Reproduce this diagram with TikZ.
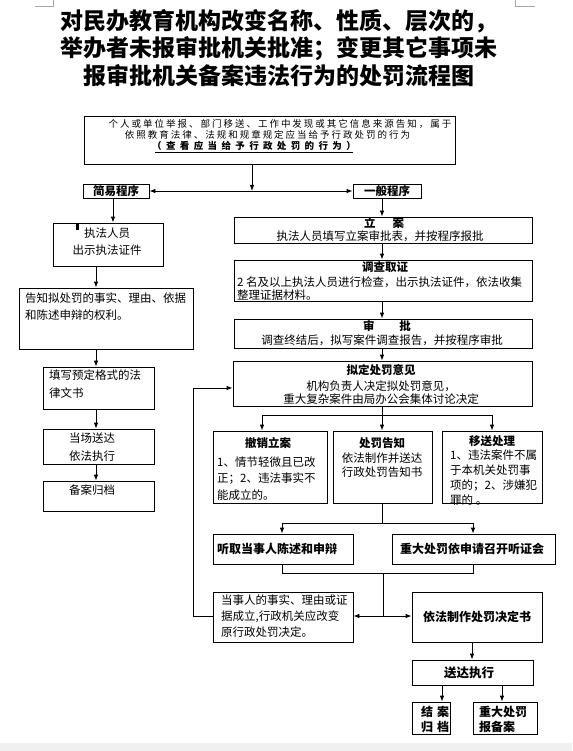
\documentclass[tikz,border=0pt]{standalone}
\usepackage{fontspec}
\setmainfont{Noto Sans CJK SC}
\usetikzlibrary{arrows.meta}
\newcommand\mkbox[5]{\node[box,minimum width={#4-#2},minimum height={#5-#3}] (#1) at ({(#2+#4)/2},{(#3+#5)/2}) {};}
\begin{document}
\begin{tikzpicture}[x=1pt,y=-1pt,
  box/.style={draw,line width=0.8pt,inner sep=0pt},
  txt/.style={inner sep=0pt,align=center},
  body/.style={font=\fontsize{11.5}{#1}\selectfont},
  ttl/.style={font=\fontsize{11.5}{14}\selectfont\bfseries},
  ttlb/.style={font=\fontsize{12}{#1}\selectfont\bfseries},
  arr/.style={-{Latex[length=6pt,width=4.5pt]},line width=0.8pt},
  ln/.style={line width=0.8pt}]
\useasboundingbox (0,0) rectangle (572,751);
% page decorations
\fill[black!6] (0,743) rectangle (572,751);
\draw[black!35,line width=0.6pt] (35,6) -- (53,6) -- (53,0);
\draw[black!35,line width=0.6pt] (515,0) -- (515,6) -- (535,6);
% title
\node[txt,font=\fontsize{23}{27.5}\selectfont\bfseries] (title) at (279,48)
  {对民办教育机构改变名称、性质、层次的，\\举办者未报审批机关批准；变更其它事项未\\报审批机关备案违法行为的处罚流程图};
% top box
\mkbox{top}{84}{116}{455}{164}
\node[txt,font=\fontsize{9.5}{10}\selectfont\addfontfeature{LetterSpace=21}] (t-top1) at (280,124) {个人或单位举报、部门移送、工作中发现或其它信息来源告知，属于};
\node[txt,font=\fontsize{9.5}{10}\selectfont\addfontfeature{LetterSpace=21}] (t-top2) at (267.5,134.5) {依照教育法律、法规和规章规定应当给予行政处罚的行为};
\node[txt,font=\fontsize{9.5}{10}\selectfont\bfseries\addfontfeature{LetterSpace=46}] (t-top3) at (254,145.5) {（查看应当给予行政处罚的行为）};
\draw[line width=0.8pt] (t-top3.south west) ++(3,1.8) -- ([xshift=-3pt,yshift=-1.8pt]t-top3.south east);
% procedures
\mkbox{jianyi}{83}{184}{149}{198}
\node[txt,ttl] (t-jianyi) at (116,191) {简易程序};
\mkbox{yiban}{353}{184}{421}{198}
\node[txt,ttl] (t-yiban) at (387,191) {一般程序};
\coordinate (j1) at (252,191);
\draw[arr] (top.south -| j1) -- (j1);
\draw[arr,{Latex[length=6pt,width=4.5pt]}-{Latex[length=6pt,width=4.5pt]}] (jianyi.east) -- (yiban.west);
% left column
\coordinate (xa) at (113,0);
\coordinate (xb) at (96,0);
\mkbox{zhifa}{53}{223}{163}{266}
\node[txt,body=17] (t-zhifa) at (107,241.5) {执法人员\\出示执法证件};
\draw[line width=2.5pt] (77.5,223.5) -- (77.5,229.5);
\mkbox{gaozhi}{19}{288}{193}{349}
\node[txt,body=17,align=left,anchor=west] (t-gaozhi) at (25,306.5) {告知拟处罚的事实、理由、依据\\和陈述申辩的权利。};
\mkbox{tianxie}{43}{367}{154}{409}
\node[txt,body=18,align=left,anchor=west] (t-tianxie) at (49,384) {填写预定格式的法\\律文书};
\mkbox{dangchang}{43}{429}{154}{464}
\node[txt,body=18] (t-dangchang) at (92,447) {当场送达\\依法执行};
\mkbox{beian}{43}{481}{154}{511}
\node[txt,body=16] (t-beian) at (92,490) {备案归档};
\draw[arr] (jianyi.south -| xa) -- (zhifa.north -| xa);
\draw[arr] (zhifa.south -| xb) -- (gaozhi.north -| xb);
\draw[arr] (gaozhi.south -| xb) -- (tianxie.north -| xb);
\draw[arr] (tianxie.south -| xb) -- (dangchang.north -| xb);
\draw[arr] (dangchang.south -| xb) -- (beian.north -| xb);
% right column
\coordinate (xc) at (382,0);
\mkbox{lian}{234}{217}{532}{243}
\node[txt,ttl] (t-lian1) at (384,223) {立\hspace{17pt}案};
\node[txt,body=14] (t-lian2) at (380,236) {执法人员填写立案审批表，并按程序报批};
\mkbox{diaocha}{234}{260}{532}{301}
\node[txt,ttl] (t-diaocha1) at (385,267.5) {调查取证};
\node[txt,body=13,align=left,anchor=west] (t-diaocha2) at (237,288.5) {2 名及以上执法人员进行检查，出示执法证件，依法收集\\整理证据材料。};
\mkbox{shenpi}{234}{319}{532}{348}
\node[txt,ttl] (t-shenpi1) at (387,326) {审\hspace{25pt}批};
\node[txt,body=14] (t-shenpi2) at (382,340) {调查终结后，拟写案件调查报告，并按程序审批};
\mkbox{niding}{233}{361}{532}{406}
\node[txt,ttl] (t-niding1) at (381,370) {拟定处罚意见};
\node[txt,body=13] (t-niding2) at (381,392.5) {机构负责人决定拟处罚意见，\\重大复杂案件由局办公会集体讨论决定};
\draw[arr] (yiban.south -| xc) -- (lian.north -| xc);
\draw[arr] (lian.south -| xc) -- (diaocha.north -| xc);
\draw[arr] (diaocha.south -| xc) -- (shenpi.north -| xc);
\draw[arr] (shenpi.south -| xc) -- (niding.north -| xc);
% three outcomes
\mkbox{chexiao}{213}{431}{327}{503}
\node[txt,ttl] (t-chexiao1) at (268,443) {撤销立案};
\node[txt,body=16.5,align=left,anchor=west] (t-chexiao2) at (217,478.3) {1、情节轻微且已改\\正；2、违法事实不\\能成立的。};
\mkbox{chufa}{333}{431}{432}{503}
\node[txt,ttl] (t-chufa1) at (382,443) {处罚告知};
\node[txt,body=14] (t-chufa2) at (382,465) {依法制作并送达\\行政处罚告知书};
\mkbox{yisong}{442}{431}{542}{503}
\node[txt,ttl] (t-yisong1) at (492,441) {移送处理};
\node[txt,body=15,align=left,anchor=west] (t-yisong2) at (450,477.75) {1、违法案件不属\\于本机关处罚事\\项的；2、涉嫌犯\\罪的 。};
\coordinate (b1) at (382,415);
\coordinate (b1l) at (262,415);
\coordinate (b1r) at (492,415);
\draw[ln] (niding.south -| b1) -- (b1);
\draw[ln] (b1l) -- (b1r);
\draw[arr] (b1l) -- (chexiao.north -| b1l);
\draw[arr] (b1) -- (chufa.north -| b1);
\draw[arr] (b1r) -- (yisong.north -| b1r);
% hearing
\mkbox{tingqu}{213}{534}{353}{564}
\node[txt,ttlb=14] (t-tingqu) at (277,549) {听取当事人陈述和申辩};
\mkbox{tingzheng}{392}{534}{555}{564}
\node[txt,ttlb=14] (t-tingzheng) at (472,549) {重大处罚依申请召开听证会};
\coordinate (b2) at (382,523);
\coordinate (b2l) at (282,523);
\coordinate (b2r) at (473,523);
\draw[ln] (chufa.south -| b2) -- (b2);
\draw[ln] (b2l) -- (b2r);
\draw[arr] (b2l) -- (tingqu.north -| b2l);
\draw[arr] (b2r) -- (tingzheng.north -| b2r);
\coordinate (b3l) at (282,573);
\coordinate (b3r) at (473,573);
\coordinate (b3) at (383,573);
\coordinate (b4) at (383,616);
\draw[ln] (tingqu.south -| b3l) -- (b3l) -- (b3r) -- (tingzheng.south -| b3r);
\draw[ln] (b3) -- (b4);
% decision
\mkbox{dangshi}{213}{592}{353}{642}
\node[txt,body=16,align=left,anchor=west] (t-dangshi) at (221,616) {当事人的事实、理由或证\\据成立,行政机关应改变\\原行政处罚决定。};
\mkbox{yifa}{412}{592}{542}{642}
\node[txt,ttlb=14] (t-yifa) at (477,617) {依法制作处罚决定书};
\draw[arr] (b4) -- (b4 -| dangshi.east);
\draw[arr] (b4) -- (b4 -| yifa.west);
% feedback loop
\coordinate (fb1) at (193,616);
\coordinate (fb2) at (193,388);
\draw[arr] (fb1 -| dangshi.west) -- (fb1) -- (fb2) -- (fb2 -| niding.west);
% execution
\coordinate (xd) at (472,0);
\mkbox{songda}{412}{660}{533}{685}
\node[txt,font=\fontsize{12.5}{14}\selectfont\bfseries] (t-songda) at (469,672.5) {送达执行};
\draw[arr] (yifa.south -| xd) -- (songda.north -| xd);
\coordinate (xe) at (442,0);
\coordinate (xf) at (502,0);
\mkbox{jiean}{412}{702}{450}{734}
\node[txt,ttlb=15] (t-jiean) at (435,719.5) {结\hspace{4pt}案\\归\hspace{4pt}档};
\mkbox{baobei}{473}{702}{537}{734}
\node[txt,ttlb=15,align=left,anchor=west] (t-baobei) at (479,719.5) {重大处罚\\报备案};
\draw[arr] (songda.south -| xe) -- (jiean.north -| xe);
\draw[arr] (songda.south -| xf) -- (baobei.north -| xf);
\end{tikzpicture}
\end{document}
